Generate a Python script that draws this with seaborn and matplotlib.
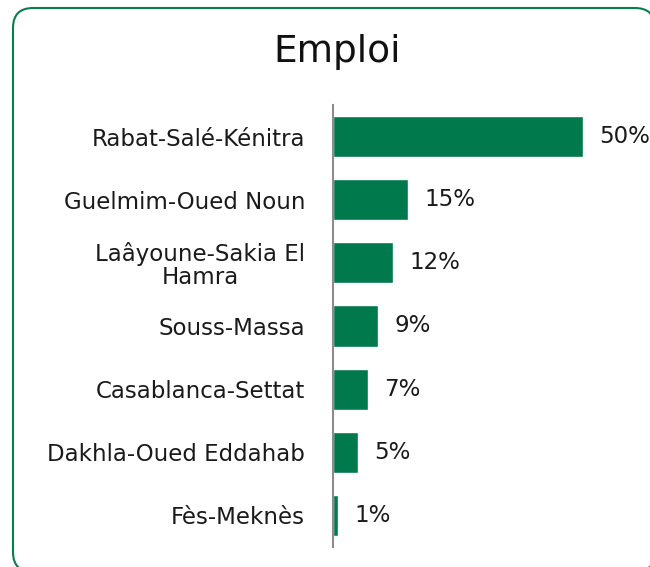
import matplotlib
matplotlib.use("Agg")
import matplotlib.pyplot as plt
from matplotlib.patches import FancyBboxPatch
import pandas as pd
import seaborn as sns

# === Data ===
regions = ["Rabat-Salé-Kénitra", "Guelmim-Oued Noun", "Laâyoune-Sakia El\nHamra",
           "Souss-Massa", "Casablanca-Settat", "Dakhla-Oued Eddahab", "Fès-Meknès"]
shares = [50, 15, 12, 9, 7, 5, 1]
title = "Emploi"

df = pd.DataFrame({"region": regions, "share": shares})

sns.set_style("white")
plt.rcParams['font.family'] = ['DejaVu Sans']

fig = plt.figure(figsize=(6.5, 5.67), dpi=100)

# rounded green frame, in inches so the corners stay round (runs past right/bottom edge)
# filled white + behind the axes: avoids agg clipping artefacts on unfilled curves
frame = FancyBboxPatch((0.13, -0.05), 6.42, 5.64,
                       boxstyle="round,pad=0,rounding_size=0.2",
                       transform=fig.dpi_scale_trans, facecolor="white",
                       edgecolor="#0a7d50", linewidth=1.5, zorder=-1)
fig.patches.append(frame)

ax = fig.add_axes([333 / 650, 1 - 547 / 567, 1 - 333 / 650, 442 / 567])
ax.patch.set_alpha(0)
sns.barplot(data=df, x="share", y="region", color="#007a4d", width=0.65,
            saturation=1, ax=ax)

ax.set_xlim(0, 63.4)
ax.set_ylim(6.5, -0.5)
ax.set_xlabel("")
ax.set_ylabel("")
ax.set_xticks([])
for s in ["top", "right", "bottom"]:
    ax.spines[s].set_visible(False)
ax.spines["left"].set_color("#8c8c8c")
ax.spines["left"].set_linewidth(1.5)
ax.tick_params(axis="y", length=0, pad=20, labelsize=16.5, labelcolor="#1a1a1a")
for lbl in ax.get_yticklabels():
    lbl.set_multialignment("center")
    lbl.set_linespacing(1.0)

for i, v in enumerate(shares):
    ax.text(v + 3.3, i, f"{v}%", va="center", ha="left", fontsize=16.5, color="#1a1a1a")

fig.text(337 / 650, 1 - 52 / 567, title, ha="center", va="center", fontsize=27, color="#111111")

fig.savefig("out.png", dpi=100)
